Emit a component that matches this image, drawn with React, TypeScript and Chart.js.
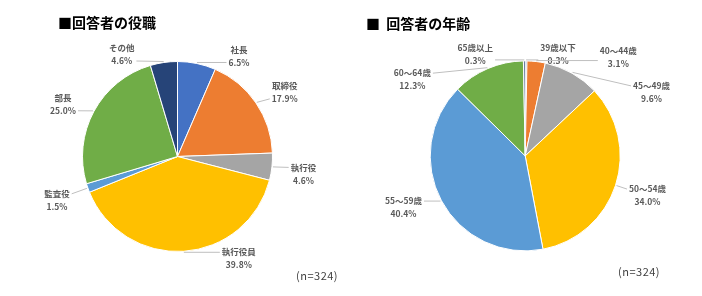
import React, { useEffect, useRef } from "react";
import { Chart, registerables } from "chart.js";

Chart.register(...registerables);

// ---- data ----
const positionLabels = ["社長", "取締役", "執行役", "執行役員", "監査役", "部長", "その他"];
const positionValues = [6.5, 17.9, 4.6, 39.8, 1.5, 25.0, 4.6];

const ageLabels = ["39歳以下", "40～44歳", "45～49歳", "50～54歳", "55～59歳", "60～64歳", "65歳以上"];
const ageValues = [0.3, 3.1, 9.6, 34.0, 40.4, 12.3, 0.3];

const sampleNote = "(n=324)";

// ---- styles / layout (kept separate from data) ----
const sliceColors = ["#4472C4", "#ED7D31", "#A5A5A5", "#FFC000", "#5B9BD5", "#70AD47", "#264478"];
const positionNudges: [number, number][] = [
  [42, -6.5], [28, -10], [30.5, 7], [55, 6], [-30, 12], [-30, -6.6], [-42, -7],
];
const ageNudges: [number, number][] = [
  [32, -6], [82, -3], [79, 20], [31, 10], [-37, 6], [-75, 12], [-49, -6],
];

const labelFont = 'bold 8.5px "Noto Sans CJK JP", "Noto Sans", sans-serif';

const pieLabelPlugin = {
  id: "pieLabels",
  afterDatasetsDraw(chart: any, _args: any, opts: any) {
    const ctx = chart.ctx as CanvasRenderingContext2D;
    const meta = chart.getDatasetMeta(0);
    const labels = chart.data.labels as string[];
    const values = chart.data.datasets[0].data as number[];
    const nudges = opts.nudges as [number, number][];
    ctx.save();
    ctx.font = labelFont;
    ctx.textAlign = "center";
    ctx.textBaseline = "middle";
    meta.data.forEach((arc: any, i: number) => {
      const { x, y, startAngle, endAngle, outerRadius } = arc.getProps(
        ["x", "y", "startAngle", "endAngle", "outerRadius"],
        true
      );
      const mid = (startAngle + endAngle) / 2;
      const ex = x + Math.cos(mid) * (outerRadius + 1);
      const ey = y + Math.sin(mid) * (outerRadius + 1);
      const [dx, dy] = nudges[i];
      const cx = ex + dx;
      const cy = ey + dy;
      const l1 = labels[i];
      const l2 = values[i].toFixed(1) + "%";
      const w = Math.max(ctx.measureText(l1).width, ctx.measureText(l2).width);
      const lx = dx > 0 ? cx - w / 2 - 2 : cx + w / 2 + 2;
      const ly = Math.min(Math.max(ey, cy - 6.5), cy + 6.5);
      ctx.strokeStyle = "#BFBFBF";
      ctx.lineWidth = 1;
      ctx.beginPath();
      ctx.moveTo(ex, ey);
      ctx.lineTo(lx, ly);
      ctx.stroke();
      ctx.fillStyle = "#595959";
      ctx.fillText(l1, cx, cy - 6.5);
      ctx.fillText(l2, cx, cy + 6.5);
    });
    ctx.restore();
  },
};

type PieProps = {
  labels: string[];
  values: number[];
  nudges: [number, number][];
  padding: { left: number; right: number; top: number; bottom: number };
  left: number;
};

function PieCanvas({ labels, values, nudges, padding, left }: PieProps) {
  const ref = useRef<HTMLCanvasElement | null>(null);
  useEffect(() => {
    if (!ref.current) return;
    const chart = new Chart(ref.current, {
      type: "pie",
      data: {
        labels,
        datasets: [
          {
            data: values,
            backgroundColor: sliceColors,
            borderColor: "#FFFFFF",
            borderWidth: 1,
            hoverOffset: 0,
            offset: 0,
          },
        ],
      },
      options: {
        responsive: false,
        animation: false,
        devicePixelRatio: 1,
        layout: { padding },
        plugins: {
          legend: { display: false },
          tooltip: { enabled: false },
          pieLabels: { nudges },
        } as any,
      },
      plugins: [pieLabelPlugin],
    });
    return () => chart.destroy();
  }, []);
  return (
    <canvas
      ref={ref}
      width={351}
      height={296}
      style={{ position: "absolute", left, top: 0, width: 351, height: 296 }}
    />
  );
}

const titleStyle: React.CSSProperties = {
  position: "absolute",
  fontFamily: '"Noto Sans CJK JP", sans-serif',
  fontWeight: "bold",
  fontSize: 14,
  lineHeight: "14px",
  color: "#000",
  whiteSpace: "nowrap",
};

const noteStyle: React.CSSProperties = {
  position: "absolute",
  fontFamily: '"Noto Sans CJK JP", sans-serif',
  fontSize: 11,
  lineHeight: "11px",
  color: "#404040",
  whiteSpace: "nowrap",
  letterSpacing: 0.5,
};

export default function App() {
  return (
    <div
      style={{
        position: "absolute",
        left: 0,
        top: 0,
        width: 702,
        height: 296,
        background: "#FFFFFF",
        overflow: "hidden",
      }}
    >
      <PieCanvas
        labels={positionLabels}
        values={positionValues}
        nudges={positionNudges}
        padding={{ left: 82, right: 78, top: 61, bottom: 44 }}
        left={0}
      />
      <PieCanvas
        labels={ageLabels}
        values={ageValues}
        nudges={ageNudges}
        padding={{ left: 78.7, right: 81.3, top: 60.4, bottom: 44.6 }}
        left={351}
      />
      <div style={{ ...titleStyle, left: 58, top: 15 }}>■回答者の役職</div>
      <div style={{ ...titleStyle, left: 366, top: 16 }}>■&nbsp;&nbsp;回答者の年齢</div>
      <div style={{ ...noteStyle, left: 296, top: 270 }}>{sampleNote}</div>
      <div style={{ ...noteStyle, left: 618, top: 266 }}>{sampleNote}</div>
    </div>
  );
}
